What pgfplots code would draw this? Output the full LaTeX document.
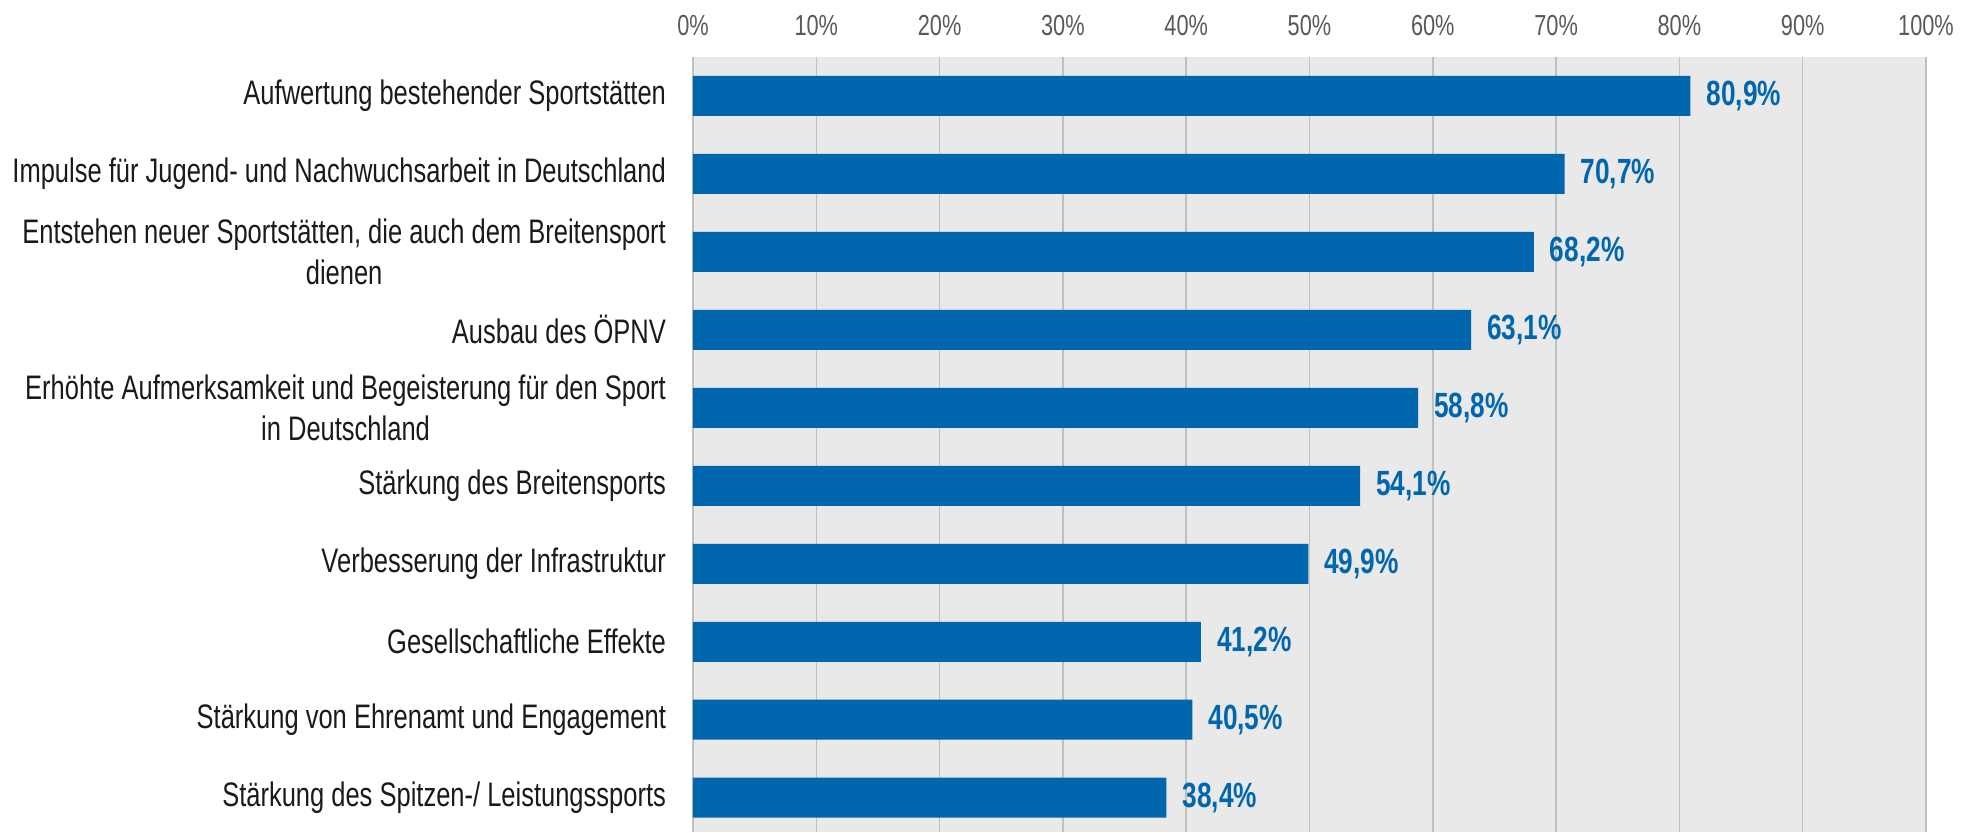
\documentclass[border=0pt]{standalone}
\usepackage{pgfplots}
\pgfplotsset{compat=1.18}
\usepackage{fontspec}
\setmainfont{Liberation Sans}[FakeStretch=0.75]
\definecolor{barblue}{HTML}{0066AE}
\definecolor{bggray}{HTML}{E9E9E9}
\definecolor{gridgray}{HTML}{C0C0C0}
\definecolor{tickgray}{HTML}{595959}
\definecolor{labelblack}{HTML}{1A1A1A}
\begin{document}
\begin{tikzpicture}
\useasboundingbox (-346.5pt,0pt) rectangle (636pt,416pt);
\begin{axis}[
  at={(0,0)}, anchor=south west,
  scale only axis,
  width=616.5pt, height=387.5pt,
  xbar, bar width=20pt,
  xmin=0, xmax=100,
  ymin=-0.5, ymax=9.44,
  y dir=reverse,
  axis background/.style={fill=bggray},
  axis line style={draw=none},
  major tick length=0pt,
  xmajorgrids,
  major grid style={color=gridgray, line width=0.75pt},
  xtick={0,10,...,100},
  xticklabels={0\%,10\%,20\%,30\%,40\%,50\%,60\%,70\%,80\%,90\%,100\%},
  xticklabel pos=top,
  xticklabel style={font=\fontsize{14.5}{16}\selectfont, text=tickgray, yshift=7pt},
  ytick={0,...,9},
  yticklabels={
    Aufwertung bestehender Sportstätten,
    Impulse für Jugend- und Nachwuchsarbeit in Deutschland,
    {Entstehen neuer Sportstätten, die auch dem Breitensport\\dienen},
    Ausbau des ÖPNV,
    Erhöhte Aufmerksamkeit und Begeisterung für den Sport\\in Deutschland,
    Stärkung des Breitensports,
    Verbesserung der Infrastruktur,
    Gesellschaftliche Effekte,
    Stärkung von Ehrenamt und Engagement,
    Stärkung des Spitzen-/ Leistungssports},
  yticklabel style={font=\fontsize{17}{20.5}\selectfont, text=labelblack, align=center, xshift=-10pt},
  /pgf/number format/assume math mode=true,
  nodes near coords={\pgfmathprintnumber[fixed,fixed zerofill,precision=1,use comma]{\pgfplotspointmeta}\%},
  nodes near coords style={font=\bfseries\fontsize{17.5}{20}\selectfont, text=barblue, anchor=west, xshift=4.5pt},
  clip=false,
]
\addplot[fill=barblue, draw=none] coordinates {
  (80.9,0) (70.7,1) (68.2,2) (63.1,3) (58.8,4)
  (54.1,5) (49.9,6) (41.2,7) (40.5,8) (38.4,9)
};
\end{axis}
\end{tikzpicture}
\end{document}
